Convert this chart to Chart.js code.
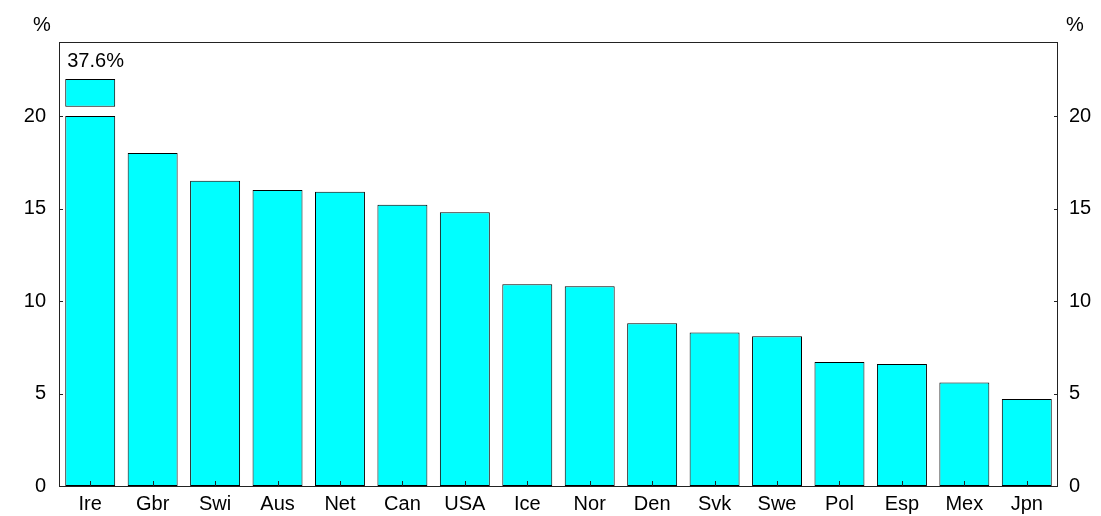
<!DOCTYPE html>
<html>
<head>
<meta charset="utf-8">
<script src="https://cdn.jsdelivr.net/npm/chart.js@4.4.1/dist/chart.umd.min.js"></script>
<style>
  html, body { margin: 0; padding: 0; background: #fff; }
  #wrap { width: 1101px; height: 516px; position: relative; }
</style>
</head>
<body>
<div id="wrap"><canvas id="chart"></canvas></div>
<script>
const countries = ["Ire", "Gbr", "Swi", "Aus", "Net", "Can", "USA", "Ice", "Nor", "Den", "Svk", "Swe", "Pol", "Esp", "Mex", "Jpn"];
const shares = [37.6, 18.0, 16.5, 16.0, 15.9, 15.2, 14.8, 10.9, 10.8, 8.8, 8.3, 8.1, 6.7, 6.6, 5.6, 4.7];
const yTicks = [0, 5, 10, 15, 20];

// axis is cut at 20, values above get a small box above the break
const breakAt = 20;
const breakBox = [20.5, 22];

const shown = shares.map(v => Math.min(v, breakAt));
const overflow = shares.map(v => v > breakAt ? breakBox : null);

const FONT = "'Liberation Sans', Arial, sans-serif";
const FSIZE = 20;

const frame = {
  id: "frame",
  afterDraw(chart) {
    const { ctx, chartArea: a, scales } = chart;
    ctx.save();
    ctx.strokeStyle = "#222";
    ctx.lineWidth = 1;
    ctx.strokeRect(a.left + 0.5, a.top + 0.5, a.right - a.left - 1, a.bottom - a.top);

    // inward ticks
    ctx.beginPath();
    yTicks.forEach(t => {
      const y = Math.round(scales.y.getPixelForValue(t)) + 0.5;
      ctx.moveTo(a.left, y); ctx.lineTo(a.left + 4, y);
      ctx.moveTo(a.right, y); ctx.lineTo(a.right - 4, y);
    });
    countries.forEach((c, i) => {
      const x = Math.round(scales.x.getPixelForValue(i)) + 0.5;
      ctx.moveTo(x, a.bottom); ctx.lineTo(x, a.bottom - 5);
    });
    ctx.stroke();

    // axis titles
    ctx.fillStyle = "#000";
    ctx.font = FSIZE + "px " + FONT;
    ctx.textAlign = "center";
    ctx.textBaseline = "middle";
    ctx.fillText("%", 42, 25);
    ctx.fillText("%", 1075, 25);

    // value label for cut bars
    const meta = chart.getDatasetMeta(0);
    shares.forEach((v, i) => {
      if (v <= breakAt) return;
      const bar = meta.data[i];
      ctx.textAlign = "left";
      ctx.textBaseline = "alphabetic";
      ctx.fillText(v.toFixed(1) + "%", bar.x - bar.width / 2 + 2, 67);
    });
    ctx.restore();
  }
};

const barStyle = {
  backgroundColor: "#00ffff",
  borderColor: "#000",
  borderWidth: 1,
  borderSkipped: false,
  barPercentage: 0.8,
  categoryPercentage: 1.0,
  grouped: false
};

new Chart(document.getElementById("chart"), {
  type: "bar",
  data: {
    labels: countries,
    datasets: [
      Object.assign({ data: shown }, barStyle),
      Object.assign({ data: overflow }, barStyle)
    ]
  },
  options: {
    responsive: true,
    maintainAspectRatio: false,
    animation: false,
    layout: { padding: { top: 42, right: 0, bottom: 0, left: 0 } },
    plugins: {
      legend: { display: false },
      tooltip: { enabled: false }
    },
    scales: {
      x: {
        grid: { display: false, drawTicks: false },
        border: { display: false },
        ticks: { color: "#000", font: { family: FONT, size: FSIZE }, padding: 6, maxRotation: 0 },
        afterFit(s) { s.height = 30; }
      },
      y: {
        position: "left",
        min: 0,
        max: 24,
        grid: { display: false, drawTicks: false },
        border: { display: false },
        afterBuildTicks(s) { s.ticks = yTicks.map(v => ({ value: v })); },
        ticks: { color: "#000", font: { family: FONT, size: FSIZE }, padding: 13 },
        afterFit(s) { s.width = 59; }
      },
      y2: {
        position: "right",
        min: 0,
        max: 24,
        grid: { display: false, drawTicks: false },
        border: { display: false },
        afterBuildTicks(s) { s.ticks = yTicks.map(v => ({ value: v })); },
        ticks: { color: "#000", font: { family: FONT, size: FSIZE }, padding: 11 },
        afterFit(s) { s.width = 43; }
      }
    }
  },
  plugins: [frame]
});
</script>
</body>
</html>
